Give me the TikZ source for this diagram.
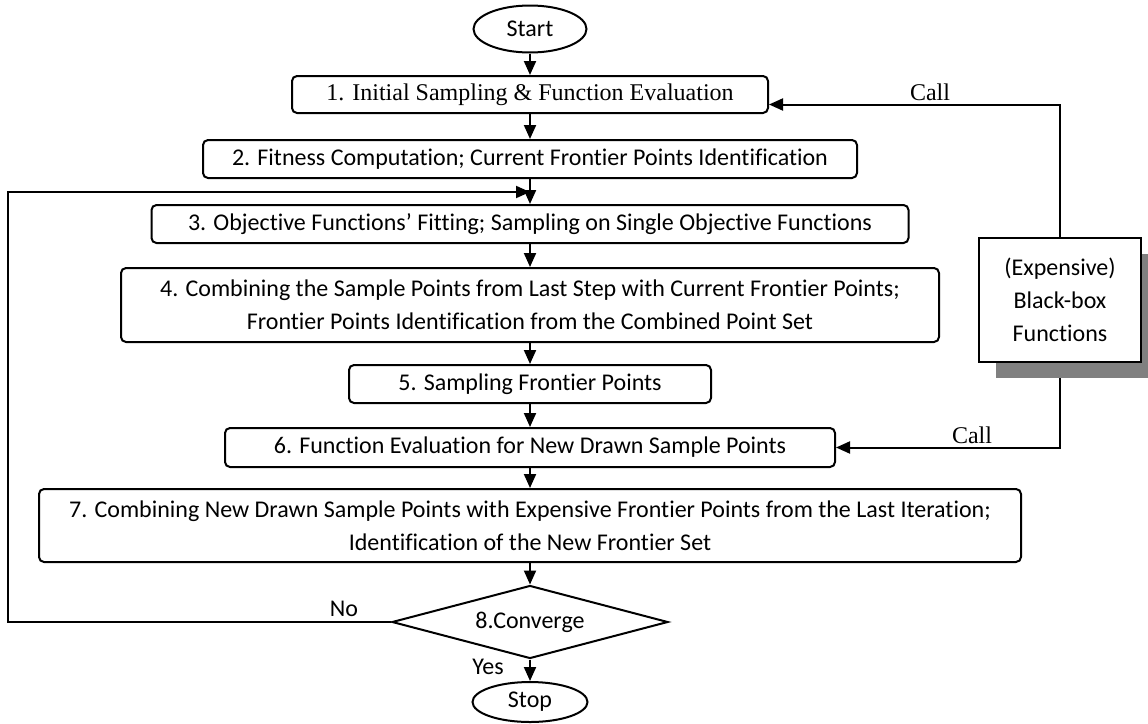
\documentclass[tikz,border=0pt]{standalone}
\usepackage{fontspec}
\setmainfont[Ligatures={NoCommon}]{Carlito}
\newfontfamily\tnr{Liberation Serif}
\usetikzlibrary{shapes.geometric,arrows.meta,shadows}
\pgfdeclarelayer{background}
\pgfsetlayers{background,main}
\begin{document}
\begin{tikzpicture}[x=1pt,y=-1pt,
  font=\fontsize{24}{33}\selectfont,
  proc/.style={draw, line width=2pt, rounded corners=5pt, inner sep=0pt, align=center},
  term/.style={draw, ellipse, line width=2pt, inner sep=0pt},
  arr/.style={line width=2pt, -{Triangle[length=14pt,width=12pt]}},
  serif/.style={font=\fontsize{24}{33}\selectfont\tnr},
  lbl/.style={inner sep=0pt}]
\useasboundingbox (0,0) rectangle (1148,723);
\clip (0,0) rectangle (1148,723);

\node[term, minimum width=113pt, minimum height=47pt] (start) at (530,29) {Start};
\node[proc, serif, minimum width=476pt, minimum height=37pt] (b1) at (530,94.5) {1. Initial Sampling \& Function Evaluation};
\node[proc, minimum width=654pt, minimum height=38pt] (b2) at (530,159) {2. Fitness Computation; Current Frontier Points Identification};
\node[proc, minimum width=757pt, minimum height=38pt] (b3) at (530,224) {3. Objective Functions’ Fitting; Sampling on Single Objective Functions};
\node[proc, minimum width=818pt, minimum height=74pt] (b4) at (530,305) {4. Combining the Sample Points from Last Step with Current Frontier Points;\\Frontier Points Identification from the Combined Point Set};
\node[proc, minimum width=362pt, minimum height=38pt] (b5) at (530,384) {5. Sampling Frontier Points};
\node[proc, minimum width=610pt, minimum height=39pt] (b6) at (530,447.5) {6. Function Evaluation for New Drawn Sample Points};
\node[proc, minimum width=982pt, minimum height=73pt] (b7) at (530,525.5) {7. Combining New Drawn Sample Points with Expensive Frontier Points from the Last Iteration;\\Identification of the New Frontier Set};
\node[draw, diamond, aspect=3.78, minimum width=276pt, minimum height=73pt, inner sep=0pt, line width=2pt] (dia) at (530,622) {8.Converge};
\node[term, minimum width=115pt, minimum height=40pt] (stop) at (530,702) {Stop};

\node[draw, fill=white, line width=2pt, inner sep=0pt, minimum width=162pt, minimum height=124pt, align=center,
  drop shadow={shadow xshift=17pt, shadow yshift=-16pt, fill=gray, opacity=1}] (bb) at (1060,300) {(Expensive)\\Black-box\\Functions};

\node[lbl, serif] (call1) at (930,92) {Call};
\node[lbl, serif] (call2) at (972,435) {Call};
\node[lbl] (no) at (344,609) {No};
\node[lbl] (yes) at (488,667) {Yes};

\coordinate (lc) at (8,192);
\coordinate (loopin) at (530,192);

\begin{pgfonlayer}{background}
\draw[arr] (start) -- (b1);
\draw[arr] (b1) -- (b2);
\draw[arr] (b2) -- (b3);
\draw[arr] (b3) -- (b4);
\draw[arr] (b4) -- (b5);
\draw[arr] (b5) -- (b6);
\draw[arr] (b6) -- (b7);
\draw[arr] (b7) -- (dia);
\draw[arr] (dia) -- (stop);
\draw[arr] (dia.west) -| (lc) -- (loopin);
\draw[arr] (bb.north) |- ([yshift=-10pt]b1.east);
\draw[arr] (bb.south) |- (b6.east);
\end{pgfonlayer}
\end{tikzpicture}
\end{document}
